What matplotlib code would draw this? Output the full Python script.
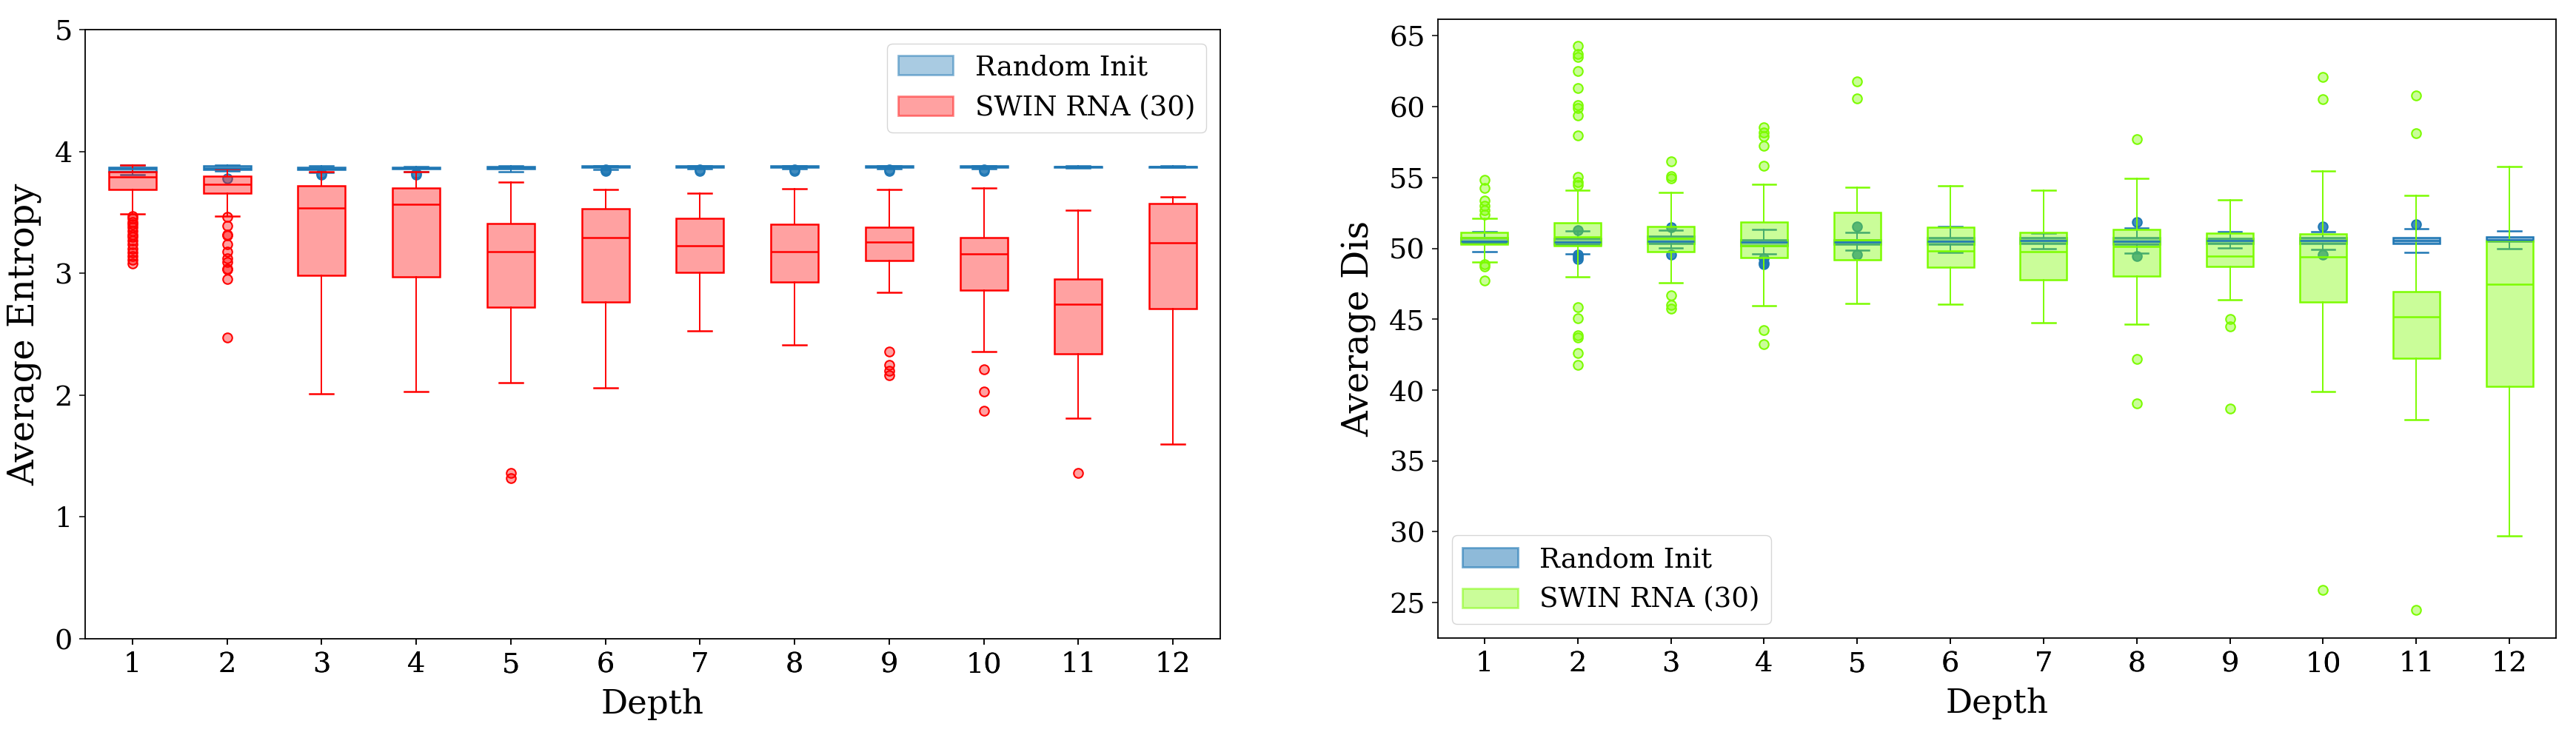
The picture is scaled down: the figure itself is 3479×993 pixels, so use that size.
import matplotlib
matplotlib.use("Agg")
import matplotlib.pyplot as plt
from matplotlib.patches import Patch
from matplotlib.colors import to_rgba

plt.rcParams['font.family'] = 'serif'
plt.rcParams['font.serif'] = ['DejaVu Serif']
plt.rcParams['axes.linewidth'] = 1.3

depths = list(range(1, 13))

# ---- left panel: average entropy ----
ent_rand_lo = [3.81, 3.84, 3.83, 3.835, 3.835, 3.85, 3.86, 3.86, 3.86, 3.86, 3.865, 3.87]
ent_rand_q1 = [3.835, 3.85, 3.85, 3.855, 3.86, 3.87, 3.872, 3.872, 3.872, 3.872, 3.872, 3.873]
ent_rand_med = [3.855, 3.865, 3.86, 3.865, 3.87, 3.875, 3.876, 3.876, 3.876, 3.876, 3.875, 3.876]
ent_rand_q3 = [3.87, 3.88, 3.87, 3.87, 3.875, 3.88, 3.88, 3.88, 3.88, 3.88, 3.877, 3.878]
ent_rand_hi = [3.89, 3.89, 3.88, 3.875, 3.88, 3.885, 3.885, 3.885, 3.885, 3.885, 3.88, 3.88]
ent_rand_fliers = [[], [3.78], [3.81, 3.82], [3.81, 3.82], [], [3.84, 3.845, 3.85],
                   [3.84, 3.85], [3.84, 3.85], [3.84, 3.85], [3.84, 3.85], [], []]

ent_swin_lo = [3.49, 3.47, 2.01, 2.03, 2.10, 2.06, 2.53, 2.41, 2.845, 2.355, 1.81, 1.60]
ent_swin_q1 = [3.69, 3.66, 2.98, 2.97, 2.72, 2.765, 3.01, 2.93, 3.105, 2.86, 2.34, 2.71]
ent_swin_med = [3.79, 3.73, 3.535, 3.566, 3.18, 3.29, 3.225, 3.18, 3.255, 3.16, 2.745, 3.25]
ent_swin_q3 = [3.833, 3.80, 3.72, 3.70, 3.41, 3.53, 3.45, 3.40, 3.38, 3.29, 2.95, 3.57]
ent_swin_hi = [3.89, 3.86, 3.835, 3.835, 3.746, 3.685, 3.66, 3.695, 3.69, 3.70, 3.515, 3.625]
ent_swin_fliers = [
    [3.47, 3.45, 3.42, 3.40, 3.38, 3.35, 3.32, 3.30, 3.27, 3.24, 3.20, 3.17, 3.14, 3.11, 3.08],
    [3.465, 3.39, 3.32, 3.31, 3.24, 3.18, 3.125, 3.09, 3.04, 3.03, 2.95, 2.47],
    [], [], [1.36, 1.32], [], [], [],
    [2.36, 2.25, 2.20, 2.16],
    [2.21, 2.03, 1.87],
    [1.36], []]

# ---- right panel: average distance ----
dis_rand_lo = [49.78, 49.6, 50.04, 49.6, 49.88, 49.71, 49.98, 49.64, 50.01, 49.94, 49.71, 49.98]
dis_rand_q1 = [50.4, 50.3, 50.37, 50.2, 50.3, 50.3, 50.36, 50.3, 50.36, 50.36, 50.34, 50.5]
dis_rand_med = [50.5, 50.47, 50.5, 50.44, 50.45, 50.5, 50.55, 50.5, 50.55, 50.55, 50.55, 50.6]
dis_rand_q3 = [50.75, 50.7, 50.87, 50.6, 50.6, 50.77, 50.75, 50.77, 50.7, 50.75, 50.77, 50.8]
dis_rand_hi = [51.2, 51.23, 51.27, 51.33, 51.14, 51.57, 51.1, 51.43, 51.17, 51.2, 51.37, 51.23]
dis_rand_fliers = [[], [51.3, 49.55, 49.4, 49.25], [51.5, 49.55], [49.3, 49.0, 48.9],
                   [51.57, 49.58], [], [], [51.86, 49.45], [], [51.53, 49.55], [51.7], []]

dis_swin_lo = [49.05, 47.99, 47.56, 45.94, 46.1, 46.04, 44.75, 44.65, 46.4, 39.88, 37.93, 29.69]
dis_swin_q1 = [50.31, 50.21, 49.78, 49.35, 49.18, 48.65, 47.79, 48.06, 48.72, 46.24, 42.27, 40.28]
dis_swin_med = [50.75, 50.8, 50.7, 50.2, 50.6, 49.8, 49.78, 50.14, 49.48, 49.41, 45.15, 47.46]
dis_swin_q3 = [51.14, 51.8, 51.53, 51.86, 52.52, 51.47, 51.14, 51.33, 51.1, 51.04, 46.97, 50.54]
dis_swin_hi = [52.13, 54.08, 53.95, 54.54, 54.31, 54.44, 54.08, 54.94, 53.42, 55.47, 53.72, 55.8]
dis_swin_fliers = [
    [54.84, 54.28, 53.35, 53.0, 52.7, 52.4, 48.9, 48.7, 47.73],
    [64.27, 63.7, 63.5, 62.5, 61.3, 60.1, 59.9, 59.4, 57.98, 55.07, 54.67, 54.45,
     45.87, 45.08, 43.85, 43.7, 42.6, 41.77],
    [56.13, 55.1, 54.94, 46.67, 46.0, 45.74],
    [58.55, 58.2, 57.9, 57.25, 55.83, 44.25, 43.26],
    [61.79, 60.57], [], [],
    [57.69, 42.17, 39.06],
    [45.0, 44.5, 38.69],
    [62.09, 60.53, 25.89],
    [60.8, 58.12, 24.5], []]

labels = ["Random Init", "SWIN RNA (30)"]
BLUE = "#1f77b4"


def make_stats(lo, q1, med, q3, hi, fliers):
    return [dict(label=str(d), whislo=a, q1=b, med=c, q3=e, whishi=f, fliers=g)
            for d, a, b, c, e, f, g in zip(depths, lo, q1, med, q3, hi, fliers)]


def draw(ax, stats, color, alpha, flier_alpha):
    ax.bxp(stats, positions=depths, widths=0.5, patch_artist=True,
           boxprops=dict(facecolor=to_rgba(color, alpha), edgecolor=color, linewidth=1.8),
           whiskerprops=dict(color=color, linewidth=1.4),
           capprops=dict(color=color, linewidth=1.8),
           medianprops=dict(color=color, linewidth=1.8),
           flierprops=dict(marker='o', markersize=9, markeredgewidth=1.5,
                           markerfacecolor=to_rgba(color, flier_alpha),
                           markeredgecolor=color))


def style(ax):
    ax.set_xlim(0.5, 12.5)
    ax.tick_params(labelsize=27.5, length=5.5, width=1.1, pad=7)
    ax.set_xlabel("Depth", fontsize=32.5, labelpad=10)


fig = plt.figure(figsize=(34.8, 9.93), dpi=100)

# left
ax1 = fig.add_axes([115 / 3480, 130 / 993, 1533 / 3480, 823 / 993])
draw(ax1, make_stats(ent_rand_lo, ent_rand_q1, ent_rand_med, ent_rand_q3, ent_rand_hi, ent_rand_fliers),
     BLUE, 0.4, 0.6)
draw(ax1, make_stats(ent_swin_lo, ent_swin_q1, ent_swin_med, ent_swin_q3, ent_swin_hi, ent_swin_fliers),
     "red", 0.37, 0.37)
ax1.set_ylim(0, 5)
ax1.set_yticks([0, 1, 2, 3, 4, 5])
style(ax1)
ax1.set_ylabel("Average Entropy", fontsize=34.5, labelpad=12)
ax1.legend(handles=[Patch(facecolor=to_rgba(BLUE, 0.38), edgecolor=to_rgba(BLUE, 0.5), lw=2),
                    Patch(facecolor=to_rgba("red", 0.37), edgecolor=to_rgba("red", 0.45), lw=2)],
           labels=labels, loc="upper right", fontsize=26.7)

# right
ax2 = fig.add_axes([1942 / 3480, 131 / 993, 1510 / 3480, 836.5 / 993])
draw(ax2, make_stats(dis_rand_lo, dis_rand_q1, dis_rand_med, dis_rand_q3, dis_rand_hi, dis_rand_fliers),
     BLUE, 0.5, 0.85)
draw(ax2, make_stats(dis_swin_lo, dis_swin_q1, dis_swin_med, dis_swin_q3, dis_swin_hi, dis_swin_fliers),
     "#7CFC00", 0.4, 0.4)
ax2.set_ylim(22.5, 66.2)
ax2.set_yticks([25, 30, 35, 40, 45, 50, 55, 60, 65])
style(ax2)
ax2.set_ylabel("Average Dis", fontsize=34.5, labelpad=12)
ax2.legend(handles=[Patch(facecolor=to_rgba(BLUE, 0.5), edgecolor=to_rgba(BLUE, 0.6), lw=2),
                    Patch(facecolor=to_rgba("#7CFC00", 0.4), edgecolor=to_rgba("#7CFC00", 0.5), lw=2)],
           labels=labels, loc="lower left", fontsize=26.7)

fig.savefig("out.png", dpi=100)
